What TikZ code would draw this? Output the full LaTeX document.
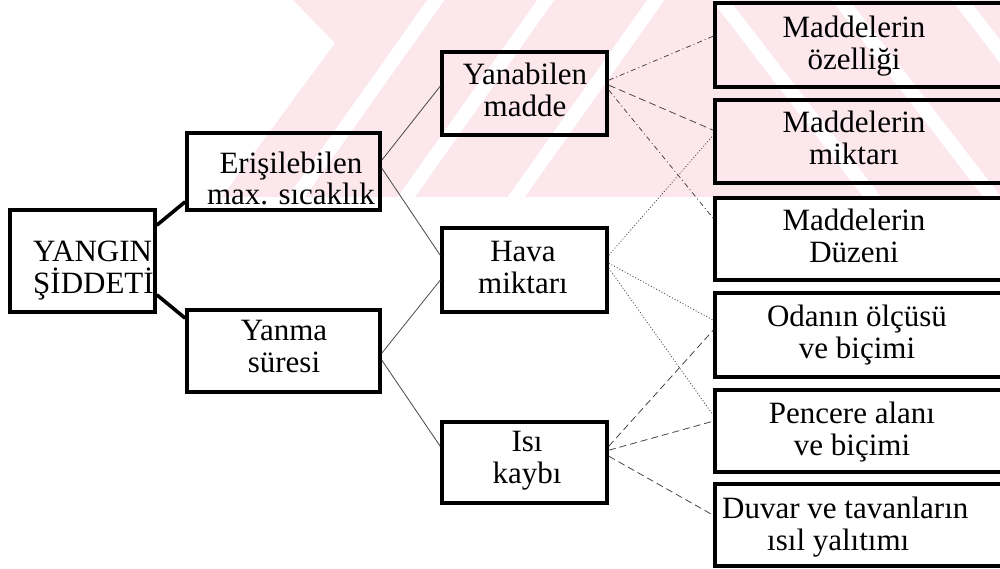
\documentclass[tikz,border=0pt]{standalone}
\usepackage{fontspec}
\setmainfont{Liberation Serif}
\definecolor{wm}{RGB}{252,232,236}
\definecolor{ln}{RGB}{70,70,70}
\begin{document}
\begin{tikzpicture}[x=1pt,y=-1pt,
  box/.style={draw=black,line width=3.6pt,inner sep=0pt},
  txt/.style={inner sep=0pt,align=center,anchor=base,font=\fontsize{31}{32}\selectfont},
  heavy/.style={line width=3.6pt,draw=black},
  thin/.style={line width=0.8pt,draw=ln},
  dashdot/.style={thin,dash pattern=on 5pt off 3pt on 1pt off 3pt},
  dots/.style={thin,dash pattern=on 1pt off 2pt},
  dashes/.style={thin,dash pattern=on 7pt off 4pt}]
\useasboundingbox (0,0) rectangle (1000,569);
\clip (0,0) rectangle (1000,569);
% watermark
\begin{scope}
  \clip (0,0) rectangle (1000,197);
  \fill[wm] (293,0) -- (335,43) -- (190,240) -- (1000,240) -- (1000,0) -- cycle;
  \foreach \x in {430,540,650} {
    \draw[white,line width=14pt] (\x+20,-20) -- (\x-150,220);
  }
  \foreach \x in {720,840,960} {
    \draw[white,line width=14pt] (\x-15,-20) -- (\x+170,220);
  }
\end{scope}
% boxes
\node[box,minimum width=145pt,minimum height=102pt] (yan) at (82.5,261) {};
\node[box,minimum width=193pt,minimum height=77pt] (er) at (283.5,171.5) {};
\node[box,minimum width=193pt,minimum height=82pt] (ym) at (283.5,351) {};
\node[box,minimum width=165pt,minimum height=83pt] (yb) at (524.5,93.5) {};
\node[box,minimum width=165pt,minimum height=84pt] (hv) at (524.5,270) {};
\node[box,minimum width=165pt,minimum height=81pt] (is) at (524.5,462.5) {};
\node[box,minimum width=297pt,minimum height=84pt] (r1) at (863.5,45) {};
\node[box,minimum width=297pt,minimum height=83pt] (r2) at (863.5,141.5) {};
\node[box,minimum width=297pt,minimum height=82pt] (r3) at (863.5,239) {};
\node[box,minimum width=297pt,minimum height=84pt] (r4) at (863.5,335) {};
\node[box,minimum width=297pt,minimum height=82pt] (r5) at (863.5,431) {};
\node[box,minimum width=297pt,minimum height=82pt] (r6) at (863.5,525) {};
% texts (base anchor = baseline of last line)
\node[txt,anchor=base west,align=left] (tyan) at (33,293) {YANGIN\\ŞİDDETİ};
\node[txt] (ter) at (291,205) {Erişilebilen\\max. sıcaklık};
\node[txt] (tym) at (284,372) {Yanma\\süresi};
\node[txt] (tyb) at (525,117) {Yanabilen\\madde};
\node[txt] (thv) at (523,293) {Hava\\miktarı};
\node[txt] (tis) at (527,483) {Isı\\kaybı};
\node[txt] (tr1) at (854,70) {Maddelerin\\özelliği};
\node[txt] (tr2) at (854,165) {Maddelerin\\miktarı};
\node[txt] (tr3) at (854,262) {Maddelerin\\Düzeni};
\node[txt] (tr4) at (857,358) {Odanın ölçüsü\\ve biçimi};
\node[txt] (tr5) at (852,455) {Pencere alanı\\ve biçimi};
\node[txt,anchor=base west,align=left] (tr6) at (722,550) {Duvar ve tavanların\\\hspace*{45pt}ısıl yalıtımı};
% thick connectors
\draw[heavy] ([yshift=-17pt]yan.north east) -- ([yshift=10pt]er.south west);
\draw[heavy] ([yshift=19pt]yan.south east) -- ([yshift=-10pt]ym.north west);
% thin solid
\draw[thin] ([yshift=-29pt]er.north east) -- ([yshift=-36pt]yb.north west);
\draw[thin] ([yshift=-37pt]er.north east) -- ([yshift=-29pt]hv.north west);
\draw[thin] ([yshift=-45pt]ym.north east) -- ([yshift=-54pt]hv.north west);
\draw[thin] ([yshift=-52pt]ym.north east) -- ([yshift=-26pt]is.north west);
% right connectors
\draw[dashdot] ([yshift=-30pt]yb.north east) -- ([yshift=-35pt]r1.north west);
\draw[dashes] ([yshift=-35pt]yb.north east) -- ([yshift=-32pt]r2.north west);
\draw[dashdot] ([yshift=-40pt]yb.north east) -- ([yshift=-22pt]r3.north west);
\draw[dots] ([yshift=-29pt]hv.north east) -- ([yshift=-37pt]r2.north west);
\draw[dots] ([yshift=-37pt]hv.north east) -- ([yshift=-29pt]r4.north west);
\draw[dots] ([yshift=-42pt]hv.north east) -- ([yshift=-27pt]r5.north west);
\draw[dashes] ([yshift=-26pt]is.north east) -- ([yshift=-39pt]r4.north west);
\draw[dashes] ([yshift=-30pt]is.north east) -- ([yshift=-33pt]r5.north west);
\draw[dashes] ([yshift=-36pt]is.north east) -- ([yshift=-33pt]r6.north west);
\end{tikzpicture}
\end{document}
